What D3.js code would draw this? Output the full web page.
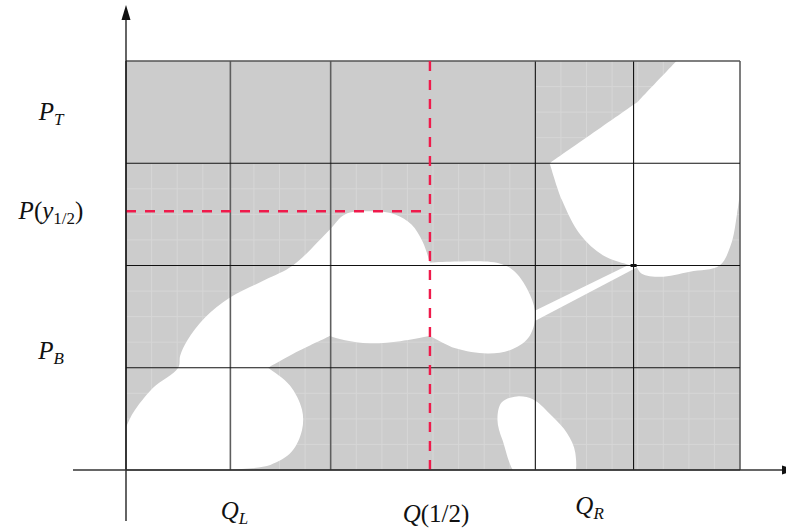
<!DOCTYPE html>
<html>
<head>
<meta charset="utf-8">
<script src="https://cdn.jsdelivr.net/npm/d3@7"></script>
<style>
  html, body { margin: 0; padding: 0; background: #fff; }
  svg text { font-family: "Liberation Serif", "DejaVu Serif", serif; fill: #111; }
</style>
</head>
<body>
<div id="chart"></div>
<script>
// region boundaries in grid units (x: 0..6 columns, y: 0..4 rows); a third value 1 marks a sharp corner
const mainRegion = [[0,0,1],[0,0.42,1],[0.07,0.56],[0.26,0.80],[0.51,1.0],[0.53,1.12],[0.60,1.27],[0.77,1.49],
  [1.02,1.69],[1.36,1.86],[1.63,2.0],[1.99,2.35],[2.14,2.50],[2.38,2.53],[2.63,2.50],[2.79,2.40],[2.90,2.23],
  [2.97,2.03,1],[3.26,2.04],[3.65,2.02],[3.80,1.94],[3.95,1.71],[4.00,1.50],[3.93,1.29],[3.75,1.17],[3.53,1.14],
  [3.22,1.19],[2.97,1.31,1],[2.68,1.26],[2.38,1.24],[2.14,1.27],[1.99,1.31,1],[1.70,1.17],[1.39,1.0,1],[1.60,0.83],
  [1.72,0.59],[1.72,0.39],[1.62,0.18],[1.41,0.05],[1.03,0,1]];
const topRightRegion = [[5.38,4.0,1],[6.0,4.0,1],[6.0,2.76],[5.97,2.50],[5.91,2.20],[5.80,2.0],[5.51,1.94],
  [5.22,1.89],[5.04,1.92],[4.98,2.0,1],[4.93,2.0,1],[4.66,2.10],[4.44,2.30],[4.26,2.64],[4.14,3.0,1],[5.00,3.60,1]];
const lowerRegion = [[3.82,0.72],[3.98,0.69],[4.17,0.52],[4.31,0.36],[4.39,0.17],[4.36,-0.08],[3.85,-0.08],
  [3.68,0.29],[3.63,0.49],[3.67,0.66]];
const streak = [[4.00,1.56],[4.94,2.02],[4.99,1.98],[4.00,1.46]];

const gridX = [0, 1.02, 2, 4, 4.96, 6];
const gridY = [0, 1, 2, 3, 4];
const qHalf = 2.97;      // Q(1/2)
const yHalf = 2.53;      // P(y_{1/2})
const pinch = [4.96, 2];

const yTickValues = [3.5, yHalf, 1.16];
const yTickLabels = [["P", "T"], ["P(y", "1/2", ")"], ["P", "B"]];
const xTickValues = [1.06, 3.03, 4.53];
const xTickLabels = [["Q", "L"], ["Q(1/2)"], ["Q", "R"]];

const W = 786, H = 531;
const svg = d3.select("#chart").append("svg").attr("width", W).attr("height", H);

const x = d3.scaleLinear().domain([0, 6]).range([126, 740]);
const y = d3.scaleLinear().domain([0, 4]).range([470, 61]);

svg.append("clipPath").attr("id", "plotclip")
  .append("rect").attr("x", x(0)).attr("y", y(4)).attr("width", x(6) - x(0)).attr("height", y(0) - y(4));

const plot = svg.append("g").attr("clip-path", "url(#plotclip)");

plot.append("rect").attr("x", x(0)).attr("y", y(4)).attr("width", x(6) - x(0)).attr("height", y(0) - y(4))
  .attr("fill", "#cccccc");

// faint quarter grid
const minor = plot.append("g").attr("stroke", "#d6d6d6").attr("stroke-width", 1);
d3.range(0.25, 6, 0.25).forEach(v => {
  minor.append("line").attr("x1", x(v)).attr("x2", x(v)).attr("y1", y(0)).attr("y2", y(v >= 4 ? 4 : 3));
});
d3.range(0.25, 4, 0.25).forEach(v => {
  minor.append("line").attr("x1", v > 3 ? x(4) : x(0)).attr("x2", x(6)).attr("y1", y(v)).attr("y2", y(v));
});

// turn the outline into pixel points, doubling up corners so the curve keeps them sharp
function toPixels(pts) {
  const px = pts.map(d => [x(d[0]), y(d[1]), d[2]]);
  const out = [];
  px.forEach((p, i) => {
    if (!p[2]) { out.push(p); return; }
    const prev = px[(i - 1 + px.length) % px.length], next = px[(i + 1) % px.length];
    const step = (a, b) => {
      const dx = b[0] - a[0], dy = b[1] - a[1], len = Math.hypot(dx, dy) || 1;
      return [a[0] + dx / len * 1.5, a[1] + dy / len * 1.5];
    };
    out.push(step(p, prev), p, step(p, next));
  });
  return out;
}

const smooth = d3.line().x(d => d[0]).y(d => d[1]).curve(d3.curveCatmullRomClosed.alpha(0.5));
const straight = d3.line().x(d => x(d[0])).y(d => y(d[1])).curve(d3.curveLinearClosed);
[mainRegion, topRightRegion, lowerRegion].forEach(r => {
  plot.append("path").attr("d", smooth(toPixels(r))).attr("fill", "#fff");
});
plot.append("path").attr("d", straight(streak)).attr("fill", "#fff");

// grid lines
gridX.forEach((v, i) => {
  const soft = i === 1 || i === 2 || i === 5;
  svg.append("line").attr("x1", x(v)).attr("x2", x(v)).attr("y1", y(0)).attr("y2", y(4))
    .attr("stroke", soft ? "#5e5e5e" : "#111").attr("stroke-width", soft ? 1.6 : 1.1);
});
gridY.forEach((v, i) => {
  svg.append("line").attr("x1", x(0)).attr("x2", x(6)).attr("y1", y(v)).attr("y2", y(v))
    .attr("stroke", i === 4 ? "#555" : "#111").attr("stroke-width", i === 4 ? 1.6 : 1.1);
});

svg.append("rect").attr("x", x(pinch[0]) - 3).attr("y", y(pinch[1]) - 1.5).attr("width", 6).attr("height", 3)
  .attr("fill", "#111");

// red dashed guides
const red = "#ef1a4b";
svg.append("line").attr("x1", x(0)).attr("x2", x(qHalf)).attr("y1", y(yHalf)).attr("y2", y(yHalf))
  .attr("stroke", red).attr("stroke-width", 2.4).attr("stroke-dasharray", "10,9");
svg.append("line").attr("x1", x(qHalf)).attr("x2", x(qHalf)).attr("y1", y(4)).attr("y2", y(0))
  .attr("stroke", red).attr("stroke-width", 2.4).attr("stroke-dasharray", "10,9");

// axes
svg.append("line").attr("x1", x(0)).attr("x2", x(0)).attr("y1", 521).attr("y2", 16)
  .attr("stroke", "#111").attr("stroke-width", 1.3);
svg.append("path").attr("d", `M${x(0)},5 L${x(0) - 4.5},20 L${x(0) + 4.5},20 Z`).attr("fill", "#111");
svg.append("line").attr("x1", 73).attr("x2", 784).attr("y1", y(0)).attr("y2", y(0))
  .attr("stroke", "#333").attr("stroke-width", 1.4);
svg.append("path").attr("d", `M797,${y(0)} L782,${y(0) - 4.5} L782,${y(0) + 4.5} Z`).attr("fill", "#111");

// labels
function label(g, parts) {
  const t = g.append("text").attr("text-anchor", "middle").style("font-size", "25px");
  const isItalic = ch => /[A-Za-z]/.test(ch);
  const addRun = (str, size, dy) => {
    let first = true;
    for (const ch of str) {
      const ts = t.append("tspan").text(ch).style("font-style", isItalic(ch) ? "italic" : "normal");
      if (size) ts.style("font-size", size + "px");
      if (first && dy) ts.attr("dy", dy);
      first = false;
    }
  };
  addRun(parts[0], null, 0);
  if (parts[1]) addRun(parts[1], 17, 5);
  if (parts[2]) addRun(parts[2], null, -5);
  return t;
}

yTickValues.forEach((v, i) => {
  label(svg, yTickLabels[i]).attr("x", 51).attr("y", y(v) + 8);
});
const xLabelBase = [519, 522, 514];
xTickValues.forEach((v, i) => {
  label(svg, xTickLabels[i]).attr("x", x(v)).attr("y", xLabelBase[i]);
});
</script>
</body>
</html>
